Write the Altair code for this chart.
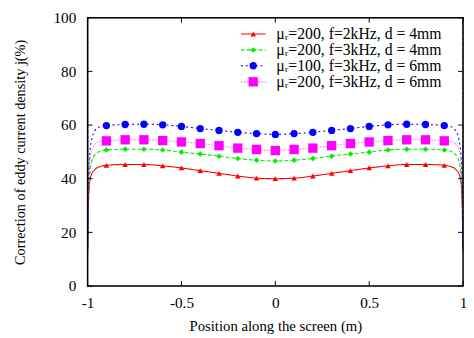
import altair as alt
import pandas as pd

# ---- data ----
series = ["μᵣ=200, f=2kHz, d = 4mm", "μᵣ=200, f=3kHz, d = 4mm",
          "μᵣ=100, f=3kHz, d = 6mm", "μᵣ=200, f=3kHz, d = 6mm"]
colors = ["#ff0000", "#00ee00", "#0000ff", "#ff00ff"]
shapes = ["triangle-up", "diamond", "circle", "square"]
sizes = [32, 32, 55, 90]
dashes = [[1, 0], [4, 2], [2, 3], [1.5, 1.5]]
opac = [1.0, 1.0, 1.0, 0.6]

x_mark = [-0.9, -0.8, -0.7, -0.6, -0.5, -0.4, -0.3, -0.2, -0.1, 0.0,
          0.1, 0.2, 0.3, 0.4, 0.5, 0.6, 0.7, 0.8, 0.9]
red = [45.0, 45.3, 45.3, 44.8, 44.0, 43.0, 42.0, 41.0, 40.2, 40.0,
       40.2, 41.0, 42.0, 43.0, 44.0, 44.8, 45.3, 45.3, 45.0]
green = [50.7, 51.0, 51.0, 50.7, 49.9, 49.2, 48.4, 47.5, 46.9, 46.6,
         46.9, 47.5, 48.4, 49.2, 49.9, 50.7, 51.0, 51.0, 50.7]
blue = [59.8, 60.2, 60.3, 60.1, 59.5, 58.7, 58.0, 57.3, 56.8, 56.5,
        56.8, 57.3, 58.0, 58.7, 59.5, 60.1, 60.3, 60.2, 59.8]
magenta = [54.1, 54.5, 54.5, 54.2, 53.7, 53.1, 52.3, 51.4, 50.9, 50.5,
           50.9, 51.4, 52.3, 53.1, 53.7, 54.2, 54.5, 54.5, 54.1]

# edge behaviour (left side; right side mirrors)
x_edge = [-1.0, -0.999, -0.995, -0.99, -0.98, -0.96, -0.93]
red_edge = [12.0, 22.0, 32.0, 38.0, 41.5, 43.5, 44.6]
green_edge = [100.0, 18.0, 34.0, 40.0, 46.0, 49.0, 50.3]
blue_edge = [100.0, 14.0, 38.0, 48.0, 54.0, 58.0, 59.5]
magenta_edge = [100.0, 15.0, 36.0, 45.0, 50.0, 53.0, 54.0]

x_ticks = [-1, -0.5, 0, 0.5, 1]
y_ticks = [0, 20, 40, 60, 80, 100]

vals = [red, green, blue, magenta]
edges = [red_edge, green_edge, blue_edge, magenta_edge]

line_rows, pt_rows = [], []
for i, s in enumerate(series):
    k = 0
    for x, v in zip(x_edge, edges[i]):
        line_rows.append({"s": s, "x": x, "y": v, "o": k}); k += 1
    for x, v in zip(x_mark, vals[i]):
        line_rows.append({"s": s, "x": x, "y": v, "o": k}); k += 1
        pt_rows.append({"s": s, "x": x, "y": v})
    for x, v in zip(reversed(x_edge), reversed(edges[i])):
        line_rows.append({"s": s, "x": -x, "y": v, "o": k}); k += 1
lines_df = pd.DataFrame(line_rows)
pts_df = pd.DataFrame(pt_rows)

FONT = "Liberation Serif"
xscale = alt.Scale(domain=[-1, 1], nice=False, zero=False)
yscale = alt.Scale(domain=[0, 100], nice=False)

xaxis = alt.Axis(values=x_ticks, title="Position along the screen (m)", grid=False,
                 domain=False, ticks=False, labelFont=FONT, labelFontSize=15.5,
                 labelColor="black", labelPadding=10, titleFont=FONT, titleFontSize=15,
                 titleFontWeight="normal", titleColor="black", titlePadding=8,
                 labelFlush=False, labelExpr="datum.value + ''")
yaxis = alt.Axis(values=y_ticks, title="Correction of eddy current density j(%)", grid=False,
                 domain=False, ticks=False, labelFont=FONT, labelFontSize=15.5,
                 labelColor="black", labelPadding=12, titleFont=FONT, titleFontSize=14.5,
                 titleFontWeight="normal", titleColor="black", titlePadding=26)

X = alt.X("x:Q", scale=xscale, axis=xaxis)
Y = alt.Y("y:Q", scale=yscale, axis=yaxis)

layers = []
for i, s in enumerate(series):
    ld = lines_df[lines_df.s == s]
    pd_ = pts_df[pts_df.s == s]
    ln = alt.Chart(ld).mark_line(color=colors[i], strokeDash=dashes[i], strokeWidth=1.1,
                                 opacity=opac[i], interpolate="monotone", clip=True).encode(
        x=X, y=Y, order="o:Q")
    pt = alt.Chart(pd_).mark_point(shape=shapes[i], filled=True, color=colors[i],
                                   size=sizes[i], opacity=1).encode(x=X, y=Y)
    layers += [ln, pt]

# inward tick marks (bottom/top and left/right)
xt = pd.DataFrame({"x": x_ticks})
yt = pd.DataFrame({"y": y_ticks})
layers.append(alt.Chart(xt).mark_rule(color="black").encode(
    x=X, y=alt.value(273), y2=alt.value(268)))
layers.append(alt.Chart(xt).mark_rule(color="black").encode(
    x=X, y=alt.value(0), y2=alt.value(5)))
layers.append(alt.Chart(yt).mark_rule(color="black").encode(
    y=Y, x=alt.value(0), x2=alt.value(5)))
layers.append(alt.Chart(yt).mark_rule(color="black").encode(
    y=Y, x=alt.value(382), x2=alt.value(377)))

# legend (inside, top right)
leg_y = [93.9, 88.0, 82.1, 76.1]
for i, s in enumerate(series):
    d = pd.DataFrame({"s": [s], "y": [leg_y[i]]})
    layers.append(alt.Chart(d).mark_rule(color=colors[i], strokeDash=dashes[i],
                                         strokeWidth=1.1, opacity=opac[i]).encode(
        x=alt.value(156), x2=alt.value(181), y=Y))
    layers.append(alt.Chart(d).mark_point(shape=shapes[i], filled=True, color=colors[i],
                                          size=sizes[i], opacity=1).encode(
        x=alt.value(168.5), y=Y))
    layers.append(alt.Chart(d).mark_text(align="left", baseline="middle", font=FONT,
                                         fontSize=16, color="black").encode(
        x=alt.value(192), y=Y, text="s:N"))

# frame
frame = alt.Chart(pd.DataFrame({"a": [0]})).mark_rect(
    fill=None, stroke="black", strokeWidth=1.5).encode(
    x=alt.value(0), x2=alt.value(382), y=alt.value(0), y2=alt.value(273))
layers.append(frame)

chart = alt.layer(*layers).properties(
    width=382, height=273,
    autosize=alt.AutoSizeParams(type="none"),
    padding={"left": 81, "top": 7, "right": 3, "bottom": 50},
).configure_view(stroke=None).configure_axis(
    titleFont=FONT, labelFont=FONT, titleFontWeight="normal"
).configure(background="white", font=FONT)

chart.save("out.html", embed_options={"renderer": "svg", "actions": False})
